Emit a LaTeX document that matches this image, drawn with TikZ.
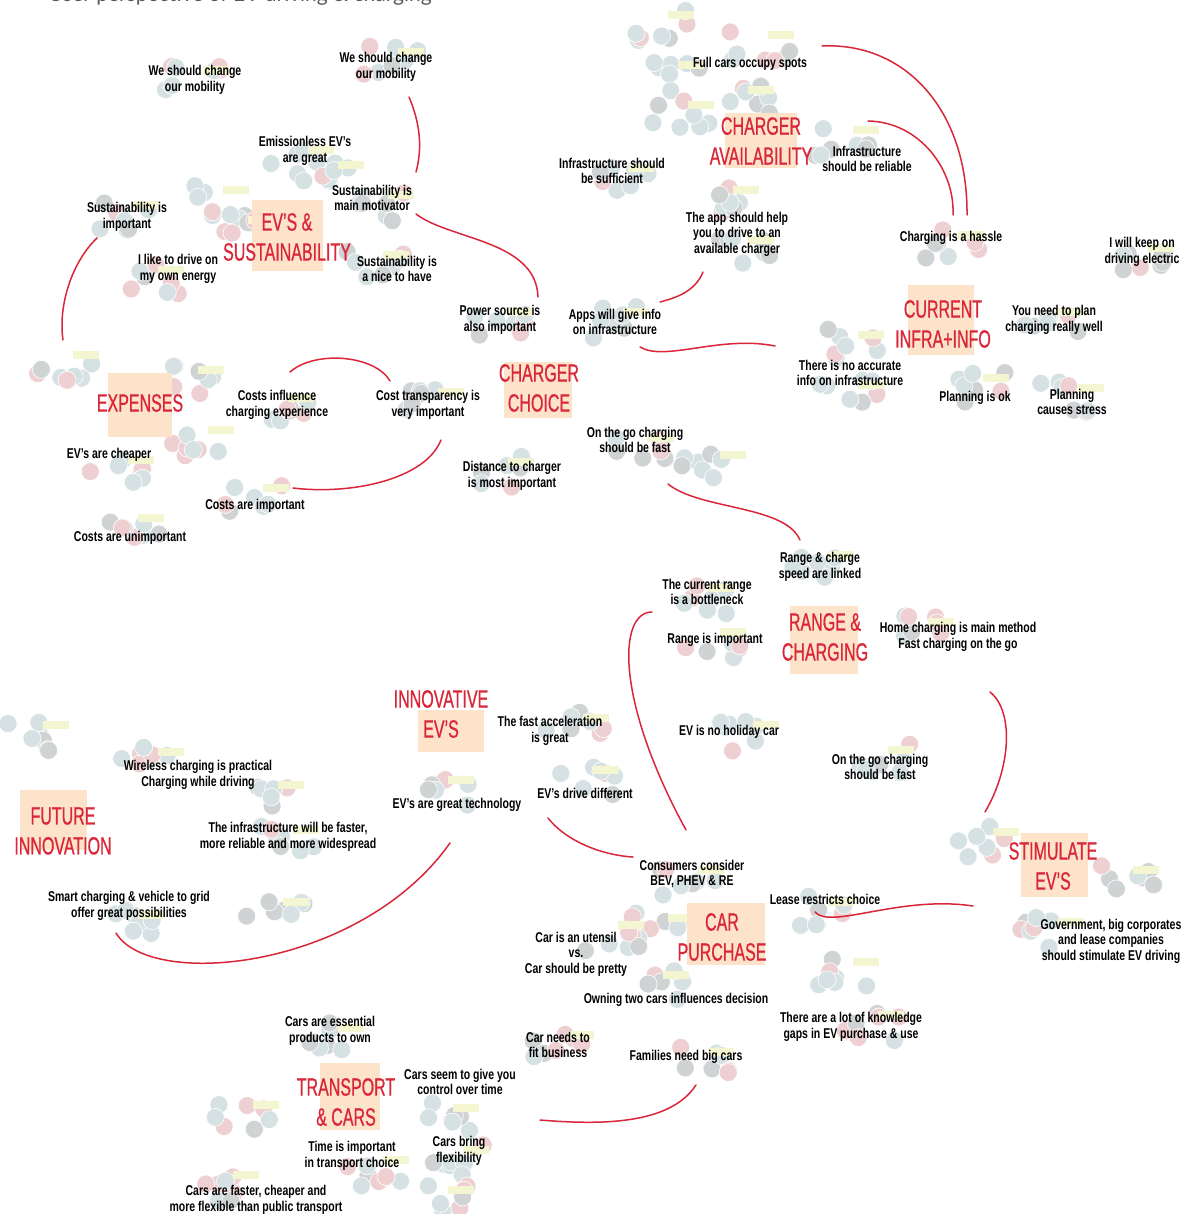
\documentclass[tikz,border=0pt]{standalone}
\usepackage{fontspec}
\setmainfont[FakeStretch=0.74]{Liberation Sans}
\newfontfamily\headfont[FakeStretch=0.64,FakeBold=0.7]{Liberation Sans}
\newfontfamily\titlefont{Lato}

\definecolor{evred}{HTML}{D92638}
\definecolor{peach}{HTML}{FDE3CA}
\definecolor{dotblue}{HTML}{D5E1E3}
\definecolor{dotgray}{HTML}{D0D3D4}
\definecolor{dotred}{HTML}{EFD0D2}
\definecolor{notey}{HTML}{F3F6D0}

\begin{document}
\begin{tikzpicture}[x=1pt,y=-1pt]
\tikzset{txt/.style={align=center,inner sep=0pt,font=\bfseries\fontsize{14.2}{15.6}\selectfont}}
\tikzset{head/.style={align=center,inner sep=0pt,text=evred,font=\headfont\fontsize{25}{30}\selectfont}}
\tikzset{pad/.style={fill=peach,inner sep=0pt}}
\tikzset{link/.style={draw=evred,line width=1.5pt,line cap=round}}
\useasboundingbox (0,0) rectangle (1190,1214);

% sticky dots in the background
\pgfmathsetseed{17}
\foreach \cx/\cy in {195/80,390/62,300/160,330/175,125/215,215/200,240/230,380/205,375/265,150/280,
  660/25,670/75,760/45,680/115,740/100,845/140,725/200,740/250,620/178,950/245,1140/258,
  500/322,615/322,1050/322,850/345,850/395,975/388,1070/398,65/365,190/380,280/408,430/402,
  200/440,120/470,255/498,130/528,500/472,640/448,712/465,820/565,700/598,712/642,920/632,
  745/735,880/760,35/735,150/762,270/795,285/840,440/790,575/728,585/780,690/880,660/928,
  820/912,985/842,1125/880,1050/932,610/935,655/985,870/1025,845/972,330/1038,560/1045,
  700/1062,245/1115,445/1118,455/1160,375/1170,225/1185,440/1200,275/912,130/925}{
  \foreach \k in {1,...,7}{
    \pgfmathsetmacro\dx{\cx+30*rand}
    \pgfmathsetmacro\dy{\cy+16*rand}
    \pgfmathparse{{"dotblue","dotgray","dotred","dotblue"}[int(4*rnd)]}
    \edef\dc{\pgfmathresult}
    \filldraw[fill=\dc,draw=white,line width=0.6pt] (\dx,\dy) circle (9);
  }
  \fill[notey] (\cx+8,\cy-14) rectangle ++(26,8);
}

\node[font=\titlefont\fontsize{21}{25}\selectfont,text=black!65,anchor=base west,inner sep=0pt]
  (title) at (48,2) {User perspective of EV driving \& charging};

% theme pads and headings
\node[pad,minimum width=71,minimum height=71] (pSus) at (287,236) {};
\node[pad,minimum width=72,minimum height=55] (pAvail) at (761,141) {};
\node[pad,minimum width=66,minimum height=70] (pInfra) at (941,320) {};
\node[pad,minimum width=64,minimum height=64] (pExp) at (140,405) {};
\node[pad,minimum width=68,minimum height=56] (pChoice) at (538,390) {};
\node[pad,minimum width=68,minimum height=68] (pRange) at (824,640) {};
\node[pad,minimum width=66,minimum height=42] (pInnov) at (451,731) {};
\node[pad,minimum width=67,minimum height=60] (pFuture) at (53,820) {};
\node[pad,minimum width=67,minimum height=64] (pStim) at (1054,865) {};
\node[pad,minimum width=78,minimum height=62] (pCar) at (726,934) {};
\node[pad,minimum width=60,minimum height=67] (pTrans) at (350,1096) {};

\node[head] (sus) at (287,237) {EV’S \&\\SUSTAINABILITY};
\node[head] (avail) at (761,141) {CHARGER\\AVAILABILITY};
\node[head] (infra) at (943,324) {CURRENT\\INFRA+INFO};
\node[head] (exp) at (140,403) {EXPENSES};
\node[head] (choice) at (539,388) {CHARGER\\CHOICE};
\node[head] (range) at (825,637) {RANGE \&\\CHARGING};
\node[head] (innov) at (441,714) {INNOVATIVE\\EV’S};
\node[head] (future) at (63,831) {FUTURE\\INNOVATION};
\node[head] (stim) at (1053,866) {STIMULATE\\EV’S};
\node[head] (car) at (722,937) {CAR\\PURCHASE};
\node[head] (trans) at (346,1102) {TRANSPORT\\\& CARS};

% quotes
\node[txt] (mob1) at (195,80) {We should change\\our mobility};
\node[txt] (mob2) at (386,67) {We should change\\our mobility};
\node[txt] (emis) at (305,151) {Emissionless EV’s\\are great};
\node[txt] (susimp) at (127,217) {Sustainability is\\important};
\node[txt] (mot) at (372,198) {Sustainability is\\main motivator};
\node[txt] (own) at (178,269) {I like to drive on\\my own energy};
\node[txt] (nice) at (397,269) {Sustainability is\\a nice to have};
\node[txt] (full) at (750,64) {Full cars occupy spots};
\node[txt] (suff) at (612,171) {Infrastructure should\\be sufficient};
\node[txt] (rel) at (867,159) {Infrastructure\\should be reliable};
\node[txt] (app) at (737,234) {The app should help\\you to drive to an\\available charger};
\node[txt] (hassle) at (951,238) {Charging is a hassle};
\node[txt] (keep) at (1142,252) {I will keep on\\driving electric};
\node[txt] (power) at (500,320) {Power source is\\also important};
\node[txt] (apps) at (615,322) {Apps will give info\\on infrastructure};
\node[txt] (plan) at (1054,320) {You need to plan\\charging really well};
\node[txt] (noacc) at (850,373) {There is no accurate\\info on infrastructure};
\node[txt] (planok) at (975,398) {Planning is ok};
\node[txt] (stress) at (1072,402) {Planning\\causes stress};
\node[txt] (costinf) at (277,405) {Costs influence\\charging experience};
\node[txt] (costtr) at (428,405) {Cost transparency is\\very important};
\node[txt] (cheap) at (109,455) {EV’s are cheaper};
\node[txt] (otg1) at (635,440) {On the go charging\\should be fast};
\node[txt] (dist) at (512,476) {Distance to charger\\is most important};
\node[txt] (costimp) at (255,506) {Costs are important};
\node[txt] (costun) at (130,538) {Costs are unimportant};
\node[txt] (linked) at (820,567) {Range \& charge\\speed are linked};
\node[txt] (bottle) at (707,592) {The current range\\is a bottleneck};
\node[txt] (rangeimp) at (715,640) {Range is important};
\node[txt] (home) at (958,637) {Home charging is main method\\Fast charging on the go};
\node[txt] (accel) at (550,731) {The fast acceleration\\is great};
\node[txt] (holiday) at (729,732) {EV is no holiday car};
\node[txt] (wireless) at (198,775) {Wireless charging is practical\\Charging while driving};
\node[txt] (otg2) at (880,767) {On the go charging\\should be fast};
\node[txt] (drive) at (585,793) {EV’s drive different};
\node[txt] (tech) at (457,805) {EV’s are great technology};
\node[txt] (faster) at (288,837) {The infrastructure will be faster,\\more reliable and more widespread};
\node[txt] (cons) at (692,874) {Consumers consider\\BEV, PHEV \& RE};
\node[txt] (smart) at (129,906) {Smart charging \& vehicle to grid\\offer great possibilities};
\node[txt] (lease) at (825,899) {Lease restricts choice};
\node[txt] (gov) at (1111,941) {Government, big corporates\\and lease companies\\should stimulate EV driving};
\node[txt] (utensil) at (576,954) {Car is an utensil\\vs.\\Car should be pretty};
\node[txt] (twocars) at (676,1000) {Owning two cars influences decision};
\node[txt] (gaps) at (851,1027) {There are a lot of knowledge\\gaps in EV purchase \& use};
\node[txt] (essent) at (330,1031) {Cars are essential\\products to own};
\node[txt] (business) at (558,1045) {Car needs to\\fit business};
\node[txt] (family) at (686,1057) {Families need big cars};
\node[txt] (control) at (460,1082) {Cars seem to give you\\control over time};
\node[txt] (time) at (352,1156) {Time is important\\in transport choice};
\node[txt] (flex) at (459,1151) {Cars bring\\flexibility};
\node[txt] (public) at (256,1200) {Cars are faster, cheaper and\\more flexible than public transport};

% red links between quotes
\draw[link] ([shift={(23,30)}]mob2.center) .. controls (421,125) and (422,150) .. ([shift={(44,-26)}]mot.center);
\draw[link] ([shift={(44,16)}]mot.center) .. controls (450,240) and (536,240) .. ([shift={(38,-23)}]power.center);
\draw[link] ([shift={(-30,21)}]susimp.center) .. controls (72,262) and (58,305) .. ([shift={(-77,-63)}]exp.center);
\draw[link] ([shift={(13,-33)}]costinf.center) .. controls (315,350) and (375,355) .. ([shift={(-38,-24)}]costtr.center);
\draw[link] ([shift={(13,35)}]costtr.center) .. controls (425,480) and (350,495) .. ([shift={(38,-18)}]costimp.center);
\draw[link] ([shift={(-34,38)}]app.center) .. controls (695,292) and (675,298) .. ([shift={(45,-20)}]apps.center);
\draw[link] ([shift={(25,25)}]apps.center) .. controls (665,362) and (720,335) .. ([shift={(-75,-27)}]noacc.center);
\draw[link] ([shift={(72,-18)}]full.center) .. controls (905,42) and (968,110) .. ([shift={(16,-23)}]hassle.center);
\draw[link] ([shift={(1,-38)}]rel.center) .. controls (920,122) and (955,170) .. ([shift={(2,-23)}]hassle.center);
\draw[link] ([shift={(33,44)}]otg1.center) .. controls (700,510) and (785,505) .. ([shift={(-20,-27)}]linked.center);
\draw[link] ([shift={(-55,20)}]bottle.center) .. controls (618,612) and (615,700) .. ([shift={(-6,-44)}]cons.center);
\draw[link] ([shift={(-37,25)}]drive.center) .. controls (565,840) and (600,855) .. ([shift={(-59,-17)}]cons.center);
\draw[link] ([shift={(32,55)}]home.center) .. controls (1015,712) and (1010,770) .. ([shift={(-68,-54)}]stim.center);
\draw[link] ([shift={(-10,13)}]lease.center) .. controls (830,930) and (900,895) .. ([shift={(-80,40)}]stim.center);
\draw[link] ([shift={(-13,27)}]smart.center) .. controls (150,990) and (360,970) .. ([shift={(-7,38)}]tech.center);
\draw[link] ([shift={(10,28)}]family.center) .. controls (670,1125) and (600,1125) .. ([shift={(80,38)}]control.center);
\end{tikzpicture}
\end{document}
